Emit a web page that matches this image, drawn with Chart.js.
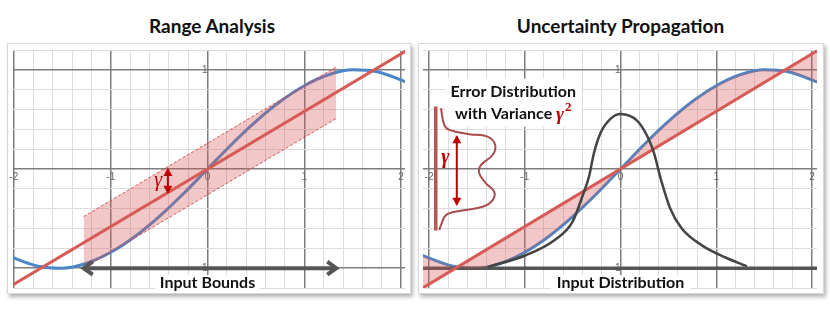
<!DOCTYPE html>
<html>
<head>
<meta charset="utf-8">
<script src="https://cdn.jsdelivr.net/npm/chart.js@4.4.0/dist/chart.umd.min.js"></script>
<style>
body { margin:0; background:#fff; width:830px; height:312px; position:relative; overflow:hidden; }
.frame { position:absolute; top:43px; height:249px; border:1px solid #d8d8d8; box-shadow:2px 3px 4px rgba(0,0,0,0.3); background:#fff; }
.title { position:absolute; top:14px; line-height:24px; font:bold 19px Lato, sans-serif; text-align:center; color:#111; }
.wrap { position:absolute; top:0; width:415px; height:312px; }
</style>
</head>
<body>
<div class="frame" style="left:7px;width:402px"></div>
<div class="frame" style="left:418px;width:404px"></div>
<div class="title" style="left:0;width:424px">Range Analysis</div>
<div class="title" style="left:415px;width:411px">Uncertainty Propagation</div>
<div class="wrap" style="left:0"><canvas id="rangeChart" width="415" height="312"></canvas></div>
<div class="wrap" style="left:415px"><canvas id="uncertChart" width="415" height="312"></canvas></div>
<script>
// sin-like curve
const curveX = [-2.1, -1.75, -1.5, -1.25, -1.0, -0.75, -0.5, -0.25, 0, 0.25, 0.5, 0.75, 1.0, 1.25, 1.5, 1.75, 2.1];
const curveY = [-0.86, -0.98, -1.0, -0.95, -0.84, -0.68, -0.48, -0.25, 0, 0.25, 0.48, 0.68, 0.84, 0.95, 1.0, 0.98, 0.86];
// linear approximation
const lineX = [-2.1, 2.1];
const lineY = [-1.22, 1.22];
// range analysis band (+/- gamma)
const bandX = [-1.28, 1.33];
const bandUpper = [-0.48, 1.03];
const bandLower = [-1.0, 0.51];
const boundsX = [-1.28, 1.33];
const boundsY = [-1, -1];
const gammaLX = [-0.41, -0.41];
const gammaLY = [0.0, -0.24];
// input distribution
const inputX = [-1.39, -0.99, -0.68, -0.50, -0.40, -0.33, -0.28, -0.21, -0.10, 0.0, 0.17, 0.28, 0.35, 0.42, 0.52, 0.64, 0.85, 1.09, 1.32];
const inputY = [-0.99, -0.87, -0.71, -0.53, -0.28, -0.08, 0.15, 0.36, 0.51, 0.555, 0.49, 0.33, 0.16, -0.10, -0.40, -0.60, -0.77, -0.89, -0.98];
const baseX = [-2.1, 2.1];
const baseY = [-1, -1];
// error distribution sketch
const errX = [-1.875, -1.841, -1.789, -1.58, -1.389, -1.309, -1.336, -1.458, -1.476, -1.406, -1.32, -1.336, -1.441, -1.684, -1.823, -1.875, -1.893];
const errY = [0.613, 0.444, 0.394, 0.351, 0.326, 0.242, 0.141, 0.04, -0.043, -0.144, -0.229, -0.313, -0.381, -0.424, -0.465, -0.566, -0.616];
const errBarX = [-1.93, -1.93];
const errBarY = [0.63, -0.62];
const gammaRX = [-1.71, -1.71];
const gammaRY = [0.33, -0.36];

const pts = (xs, ys) => xs.map((x, i) => ({x: x, y: ys[i]}));
const isMajor = v => Math.abs(v - Math.round(v)) < 1e-6;

const BLUE = '#4a86c8', RED = '#d65a55', FILL = 'rgba(215,85,85,0.33)', DARK = '#555', GAMMA = '#c00000';

function axes(xMin, xMax) {
  const grid = {
    drawTicks: false,
    color: c => isMajor(c.tick.value) ? '#7d7d7d' : '#dcdcdc',
    lineWidth: c => isMajor(c.tick.value) ? 1.5 : 1
  };
  const font = {family: 'Liberation Sans', size: 10};
  return {
    x: {type: 'linear', min: xMin, max: xMax, position: {y: 0}, border: {display: false}, grid: grid,
      ticks: {stepSize: 0.2, autoSkip: false, includeBounds: false, maxRotation: 0, padding: 2, color: '#666', font: font,
        callback: v => isMajor(v) ? String(Math.round(v)) : ''}},
    y: {type: 'linear', min: -1.2, max: 1.2, position: {x: 0}, border: {display: false}, grid: grid,
      ticks: {stepSize: 0.2, autoSkip: false, includeBounds: false, padding: 1, color: '#666', font: font,
        callback: v => (isMajor(v) && Math.round(v) !== 0) ? String(Math.round(v)) : ''}}
  };
}

function head(ctx, tip, from, style, color) {
  const a = Math.atan2(tip.y - from.y, tip.x - from.x);
  ctx.save();
  ctx.translate(tip.x, tip.y);
  ctx.rotate(a);
  ctx.beginPath();
  if (style === 'open') {
    ctx.moveTo(-9, -6.5); ctx.lineTo(0, 0); ctx.lineTo(-9, 6.5);
    ctx.lineWidth = 4; ctx.strokeStyle = color; ctx.lineJoin = 'miter'; ctx.stroke();
  } else {
    ctx.moveTo(1, 0); ctx.lineTo(-7, -4.5); ctx.lineTo(-7, 4.5); ctx.closePath();
    ctx.fillStyle = color; ctx.fill();
  }
  ctx.restore();
}

const arrowHeads = {
  id: 'arrowHeads',
  afterDatasetsDraw(chart) {
    const ctx = chart.ctx;
    chart.data.datasets.forEach((ds, i) => {
      if (!ds.arrows) return;
      const p = chart.getDatasetMeta(i).data;
      head(ctx, p[0], p[1], ds.arrows, ds.borderColor);
      head(ctx, p[p.length - 1], p[p.length - 2], ds.arrows, ds.borderColor);
    });
  }
};

function label(ctx, text, x, y, font, boxW, boxH) {
  ctx.save();
  if (boxW) {
    ctx.fillStyle = '#fff';
    ctx.fillRect(x - boxW / 2, y - boxH / 2, boxW, boxH);
  }
  ctx.font = font;
  ctx.fillStyle = '#111';
  ctx.textAlign = 'center';
  ctx.textBaseline = 'middle';
  ctx.fillText(text, x, y);
  ctx.restore();
}

function gammaText(ctx, x, y, font) {
  ctx.save();
  ctx.font = font;
  ctx.fillStyle = GAMMA;
  ctx.textAlign = 'center';
  ctx.textBaseline = 'middle';
  ctx.fillText('\u03B3', x, y);
  ctx.restore();
}

const line = (data, color, width, order, extra) => Object.assign({
  data: data, showLine: true, borderColor: color, borderWidth: width, pointRadius: 0, fill: false, order: order
}, extra || {});

new Chart(document.getElementById('rangeChart'), {
  type: 'scatter',
  data: {
    datasets: [
      line(pts(lineX, lineY), RED, 3, 1),
      line(pts(bandX, bandUpper), 'rgba(215,70,70,0.9)', 1, 3, {borderDash: [3, 2], fill: '+1', backgroundColor: FILL}),
      line(pts(bandX, bandLower), 'rgba(215,70,70,0.9)', 1, 3, {borderDash: [3, 2]}),
      line(pts(curveX, curveY), BLUE, 3, 5, {cubicInterpolationMode: 'monotone'}),
      line(pts(boundsX, boundsY), DARK, 4, 2, {arrows: 'open'}),
      line(pts(gammaLX, gammaLY), GAMMA, 2, 0, {arrows: 'filled'})
    ]
  },
  options: {
    responsive: false,
    animation: false,
    layout: {padding: {left: 13, top: 50, right: 10, bottom: 24}},
    plugins: {legend: {display: false}, tooltip: {enabled: false}},
    scales: axes(-2.01, 2.04)
  },
  plugins: [arrowHeads, {
    id: 'rangeText',
    beforeDatasetsDraw(chart) {
      const sx = chart.scales.x;
      label(chart.ctx, 'Input Bounds', sx.getPixelForValue(0), 283, 'bold 16px Lato', 104, 16);
    },
    afterDatasetsDraw(chart) {
      const sx = chart.scales.x, sy = chart.scales.y;
      gammaText(chart.ctx, sx.getPixelForValue(-0.51), sy.getPixelForValue(-0.12), 'italic 20px "Liberation Serif"');
    }
  }]
});

new Chart(document.getElementById('uncertChart'), {
  type: 'scatter',
  data: {
    datasets: [
      line(pts(lineX, lineY), RED, 3, 1, {fill: {target: 1}, backgroundColor: FILL}),
      line(pts(curveX, curveY), BLUE, 3, 5, {cubicInterpolationMode: 'monotone'}),
      line(pts(inputX, inputY), '#444', 2.5, 0, {cubicInterpolationMode: 'monotone'}),
      line(pts(baseX, baseY), DARK, 3.5, 2),
      line(pts(errX, errY), '#a84c4c', 2, 0, {tension: 0.4}),
      line(pts(errBarX, errBarY), '#b55555', 3.5, 0),
      line(pts(gammaRX, gammaRY), GAMMA, 2, 0, {arrows: 'filled'})
    ]
  },
  options: {
    responsive: false,
    animation: false,
    layout: {padding: {left: 8, top: 50, right: 13, bottom: 24}},
    plugins: {legend: {display: false}, tooltip: {enabled: false}},
    scales: axes(-2.063, 2.052)
  },
  plugins: [arrowHeads, {
    id: 'uncertText',
    beforeDatasetsDraw(chart) {
      const ctx = chart.ctx, sx = chart.scales.x, sy = chart.scales.y;
      label(ctx, 'Input Distribution', sx.getPixelForValue(0), 283, 'bold 16px Lato', 140, 16);
      const cx = sx.getPixelForValue(-1.12);
      const y1 = sy.getPixelForValue(0.78), y2 = sy.getPixelForValue(0.556);
      ctx.save();
      ctx.fillStyle = '#fff';
      ctx.fillRect(cx - 68, y1 - 13, 136, y2 - y1 + 26);
      ctx.restore();
      label(ctx, 'Error Distribution', cx, y1, 'bold 16px Lato');
      // second line with a red gamma squared
      ctx.save();
      ctx.font = 'bold 16px Lato';
      const w1 = ctx.measureText('with Variance ').width;
      ctx.font = 'italic bold 19px "Liberation Serif"';
      const w2 = ctx.measureText('\u03B3').width;
      ctx.font = 'bold 13px "Liberation Serif"';
      const w3 = ctx.measureText('2').width;
      let x = cx - (w1 + w2 + w3 + 1) / 2;
      ctx.textBaseline = 'middle';
      ctx.textAlign = 'left';
      ctx.fillStyle = '#111';
      ctx.font = 'bold 16px Lato';
      ctx.fillText('with Variance ', x, y2);
      x += w1;
      ctx.fillStyle = GAMMA;
      ctx.font = 'italic bold 19px "Liberation Serif"';
      ctx.fillText('\u03B3', x, y2 + 1);
      x += w2 + 1;
      ctx.font = 'bold 13px "Liberation Serif"';
      ctx.fillText('2', x, y2 - 6);
      ctx.restore();
    },
    afterDatasetsDraw(chart) {
      const sx = chart.scales.x, sy = chart.scales.y;
      gammaText(chart.ctx, sx.getPixelForValue(-1.83), sy.getPixelForValue(0.11), 'italic bold 20px "Liberation Serif"');
    }
  }]
});
</script>
</body>
</html>
